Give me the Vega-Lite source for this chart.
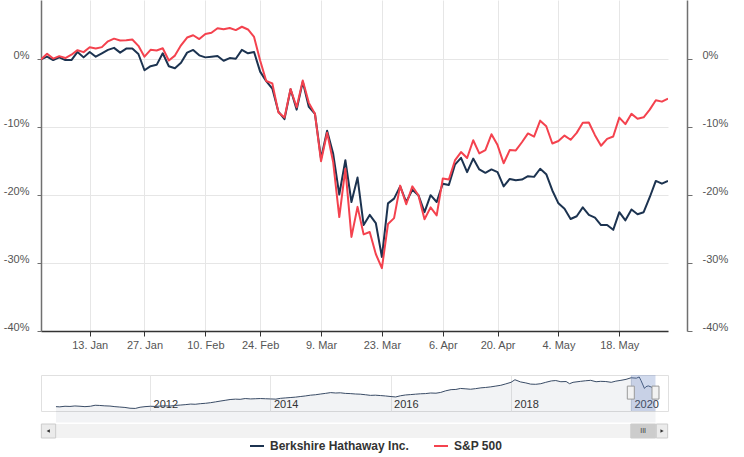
{
  "$schema": "https://vega.github.io/schema/vega-lite/v6.json",
  "padding": {"left": 3, "top": 0, "right": 5, "bottom": 5},
  "spacing": 24,
  "config": {
    "view": {"stroke": null},
    "font": "Liberation Sans",
    "axis": {"labelFont": "Liberation Sans", "labelFontSize": 11, "labelColor": "#555555"},
    "legend": {
      "orient": "none", "legendX": 208, "legendY": 438, "direction": "horizontal",
      "symbolType": "stroke", "symbolSize": 196, "symbolStrokeWidth": 2,
      "labelFont": "Liberation Sans", "labelFontSize": 12, "labelFontWeight": "bold",
      "labelColor": "#333333", "columnPadding": 21, "labelOffset": 5, "labelLimit": 300
    }
  },
  "vconcat": [
    {
      "width": 627,
      "height": 331,
      "data": {"values": [
        {"d":"2019-12-31","brk":0,"spx":0},
        {"d":"2020-01-02","brk":0.4,"spx":0.84},
        {"d":"2020-01-03","brk":-0.1,"spx":0.12},
        {"d":"2020-01-06","brk":0.3,"spx":0.48},
        {"d":"2020-01-07","brk":-0.1,"spx":0.2},
        {"d":"2020-01-08","brk":-0.1,"spx":0.69},
        {"d":"2020-01-09","brk":1.1,"spx":1.36},
        {"d":"2020-01-10","brk":0.3,"spx":1.07},
        {"d":"2020-01-13","brk":1.1,"spx":1.78},
        {"d":"2020-01-14","brk":0.4,"spx":1.62},
        {"d":"2020-01-15","brk":0.9,"spx":1.81},
        {"d":"2020-01-16","brk":1.4,"spx":2.66},
        {"d":"2020-01-17","brk":1.7,"spx":3.06},
        {"d":"2020-01-21","brk":1.0,"spx":2.79},
        {"d":"2020-01-22","brk":1.6,"spx":2.82},
        {"d":"2020-01-23","brk":1.6,"spx":2.93},
        {"d":"2020-01-24","brk":0.8,"spx":2.0},
        {"d":"2020-01-27","brk":-1.6,"spx":0.4},
        {"d":"2020-01-28","brk":-1.0,"spx":1.41},
        {"d":"2020-01-29","brk":-0.8,"spx":1.32},
        {"d":"2020-01-30","brk":0.9,"spx":1.64},
        {"d":"2020-01-31","brk":-1.0,"spx":-0.16},
        {"d":"2020-02-03","brk":-1.3,"spx":0.56},
        {"d":"2020-02-04","brk":-0.5,"spx":2.07},
        {"d":"2020-02-05","brk":1.0,"spx":3.22},
        {"d":"2020-02-06","brk":1.4,"spx":3.56},
        {"d":"2020-02-07","brk":0.6,"spx":3.0},
        {"d":"2020-02-10","brk":0.3,"spx":3.75},
        {"d":"2020-02-11","brk":0.4,"spx":3.93},
        {"d":"2020-02-12","brk":0.5,"spx":4.6},
        {"d":"2020-02-13","brk":-0.2,"spx":4.43},
        {"d":"2020-02-14","brk":0.2,"spx":4.62},
        {"d":"2020-02-18","brk":0.1,"spx":4.32},
        {"d":"2020-02-19","brk":1.4,"spx":4.81},
        {"d":"2020-02-20","brk":0.9,"spx":4.41},
        {"d":"2020-02-21","brk":1.1,"spx":3.31},
        {"d":"2020-02-24","brk":-1.8,"spx":-0.15},
        {"d":"2020-02-25","brk":-3.2,"spx":-3.18},
        {"d":"2020-02-26","brk":-4.3,"spx":-3.54},
        {"d":"2020-02-27","brk":-7.7,"spx":-7.8},
        {"d":"2020-02-28","brk":-8.8,"spx":-8.56},
        {"d":"2020-03-02","brk":-4.4,"spx":-4.35},
        {"d":"2020-03-03","brk":-7.4,"spx":-7.04},
        {"d":"2020-03-04","brk":-3.3,"spx":-3.12},
        {"d":"2020-03-05","brk":-7.0,"spx":-6.4},
        {"d":"2020-03-06","brk":-8.0,"spx":-8.0},
        {"d":"2020-03-09","brk":-14.6,"spx":-14.99},
        {"d":"2020-03-10","brk":-10.5,"spx":-10.79},
        {"d":"2020-03-11","brk":-13.9,"spx":-15.15},
        {"d":"2020-03-12","brk":-19.9,"spx":-23.22},
        {"d":"2020-03-13","brk":-14.85,"spx":-16.09},
        {"d":"2020-03-16","brk":-21.0,"spx":-26.14},
        {"d":"2020-03-17","brk":-17.4,"spx":-21.72},
        {"d":"2020-03-18","brk":-24.4,"spx":-25.77},
        {"d":"2020-03-19","brk":-22.9,"spx":-25.42},
        {"d":"2020-03-20","brk":-24.1,"spx":-28.66},
        {"d":"2020-03-23","brk":-29.1,"spx":-30.75},
        {"d":"2020-03-24","brk":-21.2,"spx":-24.25},
        {"d":"2020-03-25","brk":-20.5,"spx":-23.38},
        {"d":"2020-03-26","brk":-18.7,"spx":-18.59},
        {"d":"2020-03-27","brk":-21.0,"spx":-21.34},
        {"d":"2020-03-30","brk":-19.2,"spx":-18.7},
        {"d":"2020-03-31","brk":-20.0,"spx":-20.0},
        {"d":"2020-04-01","brk":-22.5,"spx":-23.53},
        {"d":"2020-04-02","brk":-20.0,"spx":-21.79},
        {"d":"2020-04-03","brk":-21.0,"spx":-22.97},
        {"d":"2020-04-06","brk":-18.3,"spx":-17.55},
        {"d":"2020-04-07","brk":-18.5,"spx":-17.69},
        {"d":"2020-04-08","brk":-15.5,"spx":-14.88},
        {"d":"2020-04-09","brk":-14.5,"spx":-13.65},
        {"d":"2020-04-13","brk":-16.6,"spx":-14.52},
        {"d":"2020-04-14","brk":-14.6,"spx":-11.91},
        {"d":"2020-04-15","brk":-16.2,"spx":-13.85},
        {"d":"2020-04-16","brk":-16.7,"spx":-13.35},
        {"d":"2020-04-17","brk":-16.2,"spx":-11.03},
        {"d":"2020-04-20","brk":-16.6,"spx":-12.62},
        {"d":"2020-04-21","brk":-18.7,"spx":-15.3},
        {"d":"2020-04-22","brk":-17.6,"spx":-13.36},
        {"d":"2020-04-23","brk":-17.8,"spx":-13.4},
        {"d":"2020-04-24","brk":-17.7,"spx":-12.2},
        {"d":"2020-04-27","brk":-17.2,"spx":-10.9},
        {"d":"2020-04-28","brk":-17.3,"spx":-11.37},
        {"d":"2020-04-29","brk":-16.1,"spx":-9.02},
        {"d":"2020-04-30","brk":-16.9,"spx":-9.85},
        {"d":"2020-05-01","brk":-19.3,"spx":-12.38},
        {"d":"2020-05-04","brk":-21.2,"spx":-12.01},
        {"d":"2020-05-05","brk":-22.0,"spx":-11.22},
        {"d":"2020-05-06","brk":-23.5,"spx":-11.84},
        {"d":"2020-05-07","brk":-23.1,"spx":-10.82},
        {"d":"2020-05-08","brk":-21.8,"spx":-9.32},
        {"d":"2020-05-11","brk":-22.9,"spx":-9.3},
        {"d":"2020-05-12","brk":-23.3,"spx":-11.16},
        {"d":"2020-05-13","brk":-24.4,"spx":-12.71},
        {"d":"2020-05-14","brk":-24.4,"spx":-11.71},
        {"d":"2020-05-15","brk":-25.1,"spx":-11.36},
        {"d":"2020-05-18","brk":-22.5,"spx":-8.57},
        {"d":"2020-05-19","brk":-23.7,"spx":-9.53},
        {"d":"2020-05-20","brk":-22.1,"spx":-8.02},
        {"d":"2020-05-21","brk":-22.8,"spx":-8.74},
        {"d":"2020-05-22","brk":-22.5,"spx":-8.52},
        {"d":"2020-05-26","brk":-20.3,"spx":-7.4},
        {"d":"2020-05-27","brk":-17.9,"spx":-6.02},
        {"d":"2020-05-28","brk":-18.3,"spx":-6.22},
        {"d":"2020-05-29","brk":-17.9,"spx":-5.77}
      ]},
      "encoding": {
        "x": {
          "field": "d", "type": "ordinal",
          "scale": {"type": "point", "padding": 0},
          "axis": {
            "values": ["2020-01-13","2020-01-27","2020-02-10","2020-02-24","2020-03-09","2020-03-23","2020-04-06","2020-04-20","2020-05-04","2020-05-18"],
            "labelExpr": "utcFormat(toDate(datum.value), '%-d. %b')",
            "labelAngle": 0, "grid": true, "gridColor": "#e6e6e6",
            "domainColor": "#333333", "domainWidth": 1.5, "tickColor": "#333333",
            "tickSize": 5, "labelPadding": 3, "title": null
          }
        }
      },
      "layer": [
        {
          "mark": {"type": "line", "strokeWidth": 2, "clip": true, "strokeJoin": "round"},
          "encoding": {
            "y": {
              "field": "brk", "type": "quantitative",
              "scale": {"domain": [-40, 8.75], "nice": false, "zero": false},
              "axis": {
                "orient": "left", "values": [-40, -30, -20, -10, 0],
                "labelExpr": "datum.value + '%'", "grid": true, "gridColor": "#e6e6e6",
                "domainColor": "#707070", "domainWidth": 1.5, "tickColor": "#707070",
                "tickSize": 4, "labelPadding": 8, "labelBaseline": "alphabetic",
                "labelOffset": -1, "title": null
              }
            },
            "color": {
              "datum": "Berkshire Hathaway Inc.",
              "scale": {"domain": ["Berkshire Hathaway Inc.", "S&P 500"], "range": ["#1c3350", "#f4424e"]},
              "legend": {"title": null}
            }
          }
        },
        {
          "mark": {"type": "line", "strokeWidth": 2, "clip": true, "strokeJoin": "round"},
          "encoding": {
            "y": {
              "field": "spx", "type": "quantitative",
              "scale": {"domain": [-40, 8.75], "nice": false, "zero": false},
              "axis": {
                "orient": "right", "offset": 19, "values": [-40, -30, -20, -10, 0],
                "labelExpr": "datum.value + '%'", "grid": false,
                "domainColor": "#707070", "domainWidth": 1.5, "tickColor": "#707070",
                "tickSize": 5, "labelPadding": 10, "labelBaseline": "alphabetic",
                "labelOffset": -1, "labelAlign": "left", "title": null
              }
            },
            "color": {"datum": "S&P 500"}
          }
        }
      ],
      "resolve": {"axis": {"y": "independent"}}
    },
    {
      "spacing": 0,
      "vconcat": [
        {
          "width": 627,
          "height": 36,
          "view": {"stroke": "#e0e0e0"},
          "layer": [
            {
              "data": {"values": [
                {"d":"2010-06-08","p":80},{"d":"2010-07-01","p":79},{"d":"2010-08-02","p":82},{"d":"2010-09-01","p":81},
                {"d":"2010-10-01","p":83.5},{"d":"2010-11-01","p":82},{"d":"2010-12-01","p":80},{"d":"2011-01-03","p":82},
                {"d":"2011-02-01","p":87},{"d":"2011-03-01","p":86},{"d":"2011-04-01","p":84},{"d":"2011-05-02","p":83},
                {"d":"2011-06-01","p":80},{"d":"2011-07-01","p":78},{"d":"2011-08-01","p":76},{"d":"2011-09-01","p":72},
                {"d":"2011-10-03","p":71},{"d":"2011-11-01","p":77},{"d":"2011-12-01","p":80},{"d":"2012-01-03","p":82},
                {"d":"2012-02-01","p":81},{"d":"2012-03-01","p":83},{"d":"2012-04-02","p":84},{"d":"2012-05-01","p":83},
                {"d":"2012-06-01","p":86},{"d":"2012-07-02","p":88},{"d":"2012-08-01","p":90},{"d":"2012-09-04","p":93},
                {"d":"2012-10-01","p":92},{"d":"2012-11-01","p":95},{"d":"2012-12-03","p":97},{"d":"2013-01-02","p":100},
                {"d":"2013-02-01","p":104},{"d":"2013-03-01","p":108},{"d":"2013-04-01","p":112},{"d":"2013-05-01","p":116},
                {"d":"2013-06-03","p":118},{"d":"2013-07-01","p":117},{"d":"2013-08-01","p":121},{"d":"2013-09-03","p":119},
                {"d":"2013-10-01","p":120},{"d":"2013-11-01","p":121},{"d":"2013-12-02","p":120},{"d":"2014-01-02","p":119},
                {"d":"2014-02-03","p":118},{"d":"2014-03-03","p":122},{"d":"2014-04-01","p":124},{"d":"2014-05-01","p":126},
                {"d":"2014-06-02","p":128},{"d":"2014-07-01","p":131},{"d":"2014-08-01","p":134},{"d":"2014-09-02","p":138},
                {"d":"2014-10-01","p":140},{"d":"2014-11-03","p":144},{"d":"2014-12-01","p":147},{"d":"2015-01-02","p":151},
                {"d":"2015-02-02","p":149},{"d":"2015-03-02","p":150},{"d":"2015-04-01","p":147},{"d":"2015-05-01","p":146},
                {"d":"2015-06-01","p":144},{"d":"2015-07-01","p":143},{"d":"2015-08-03","p":140},{"d":"2015-09-01","p":137},
                {"d":"2015-10-01","p":138},{"d":"2015-11-02","p":136},{"d":"2015-12-01","p":134},{"d":"2016-01-04","p":131},
                {"d":"2016-02-01","p":129},{"d":"2016-03-01","p":135},{"d":"2016-04-01","p":139},{"d":"2016-05-02","p":141},
                {"d":"2016-06-01","p":143},{"d":"2016-07-01","p":145},{"d":"2016-08-01","p":146},{"d":"2016-09-01","p":149},
                {"d":"2016-10-03","p":148},{"d":"2016-11-01","p":152},{"d":"2016-12-01","p":160},{"d":"2017-01-03","p":166},
                {"d":"2017-02-01","p":167},{"d":"2017-03-01","p":172},{"d":"2017-04-03","p":170},{"d":"2017-05-01","p":168},
                {"d":"2017-06-01","p":171},{"d":"2017-07-03","p":175},{"d":"2017-08-01","p":177},{"d":"2017-09-01","p":180},
                {"d":"2017-10-02","p":184},{"d":"2017-11-01","p":188},{"d":"2017-12-01","p":195},{"d":"2018-01-02","p":203},
                {"d":"2018-01-26","p":216},{"d":"2018-03-01","p":205},{"d":"2018-04-02","p":200},{"d":"2018-05-01","p":194},
                {"d":"2018-06-01","p":193},{"d":"2018-07-02","p":196},{"d":"2018-08-01","p":203},{"d":"2018-09-04","p":210},
                {"d":"2018-10-01","p":212},{"d":"2018-11-01","p":206},{"d":"2018-12-03","p":207},{"d":"2018-12-24","p":196},
                {"d":"2019-01-14","p":203},{"d":"2019-02-01","p":205},{"d":"2019-03-01","p":208},{"d":"2019-04-01","p":211},
                {"d":"2019-05-01","p":213},{"d":"2019-06-03","p":206},{"d":"2019-07-01","p":208},{"d":"2019-08-01","p":207},
                {"d":"2019-09-03","p":203},{"d":"2019-10-01","p":209},{"d":"2019-11-01","p":213},{"d":"2019-12-02","p":218},
                {"d":"2020-01-02","p":226},{"d":"2020-02-03","p":224},{"d":"2020-02-20","p":230},{"d":"2020-03-02","p":212},
                {"d":"2020-03-23","p":172},{"d":"2020-04-01","p":181},{"d":"2020-04-15","p":185},{"d":"2020-05-01","p":180},
                {"d":"2020-05-14","p":174},{"d":"2020-05-29","p":182}
              ]},
              "mark": {"type": "area", "color": "#1c3350", "fillOpacity": 0.06, "line": {"color": "#3a4c66", "strokeWidth": 1}},
              "encoding": {
                "x": {
                  "field": "d", "type": "temporal",
                  "scale": {"domain": [{"year": 2010, "month": 3, "date": 9}, {"year": 2020, "month": 8, "date": 13}]},
                  "axis": {
                    "values": [{"year": 2012}, {"year": 2014}, {"year": 2016}, {"year": 2018}, {"year": 2020}],
                    "format": "%Y", "grid": true, "gridColor": "#e6e6e6", "domain": false, "ticks": false,
                    "tickSize": 0, "labelPadding": -7, "labelBaseline": "middle", "labelAlign": "left",
                    "labelOffset": 3, "labelColor": "#333333", "labelFlush": false, "labelOverlap": false, "title": null
                  }
                },
                "y": {"field": "p", "type": "quantitative", "scale": {"domain": [58, 240], "zero": false, "nice": false}, "axis": null}
              }
            },
            {
              "data": {"values": [{"a": "2019-12-31", "b": "2020-05-29"}]},
              "mark": {"type": "rect", "color": "#6685c2", "opacity": 0.3},
              "encoding": {"x": {"field": "a", "type": "temporal"}, "x2": {"field": "b"}}
            },
            {
              "data": {"values": [{"a": "2019-12-31", "b": "2020-05-29"}]},
              "layer": [
                {
                  "mark": {"type": "tick", "orient": "vertical", "thickness": 7, "size": 13, "color": "#f2f2f2", "stroke": "#999999", "strokeWidth": 1, "opacity": 1},
                  "encoding": {"x": {"field": "a", "type": "temporal"}, "y": {"datum": 151, "type": "quantitative"}}
                },
                {
                  "mark": {"type": "tick", "orient": "vertical", "thickness": 7, "size": 13, "color": "#f2f2f2", "stroke": "#999999", "strokeWidth": 1, "opacity": 1},
                  "encoding": {"x": {"field": "b", "type": "temporal"}, "y": {"datum": 151, "type": "quantitative"}}
                }
              ]
            }
          ]
        },
        {
          "width": 627,
          "height": 14,
          "data": {"values": [
            {"part": "track", "a": "2010-03-09", "b": "2020-08-13"},
            {"part": "button", "a": "2010-03-11", "b": "2010-06-06"},
            {"part": "button", "a": "2020-06-03", "b": "2020-08-11"},
            {"part": "thumb", "a": "2019-12-31", "b": "2020-05-30"},
            {"part": "arrowL", "a": "2010-04-22"},
            {"part": "arrowR", "a": "2020-07-08"},
            {"part": "grip", "a": "2020-03-15"}
          ]},
          "encoding": {
            "x": {
              "field": "a", "type": "temporal",
              "scale": {"domain": [{"year": 2010, "month": 3, "date": 9}, {"year": 2020, "month": 8, "date": 13}]},
              "axis": null
            }
          },
          "layer": [
            {"transform": [{"filter": "datum.part == 'track'"}], "mark": {"type": "rect", "color": "#f2f2f2"}, "encoding": {"x2": {"field": "b"}}},
            {"transform": [{"filter": "datum.part == 'button'"}], "mark": {"type": "rect", "color": "#ebebeb", "stroke": "#cccccc", "strokeWidth": 1}, "encoding": {"x2": {"field": "b"}}},
            {"transform": [{"filter": "datum.part == 'thumb'"}], "mark": {"type": "rect", "color": "#cccccc", "stroke": "#cccccc", "strokeWidth": 1}, "encoding": {"x2": {"field": "b"}}},
            {"transform": [{"filter": "datum.part == 'arrowL'"}], "mark": {"type": "point", "shape": "triangle-left", "filled": true, "color": "#333333", "size": 14, "opacity": 1}, "encoding": {}},
            {"transform": [{"filter": "datum.part == 'arrowR'"}], "mark": {"type": "point", "shape": "triangle-right", "filled": true, "color": "#333333", "size": 14, "opacity": 1}, "encoding": {}},
            {"transform": [{"filter": "datum.part == 'grip'"}], "mark": {"type": "text", "text": "III", "fontSize": 7, "color": "#333333", "baseline": "middle"}, "encoding": {}}
          ]
        }
      ]
    }
  ]
}
